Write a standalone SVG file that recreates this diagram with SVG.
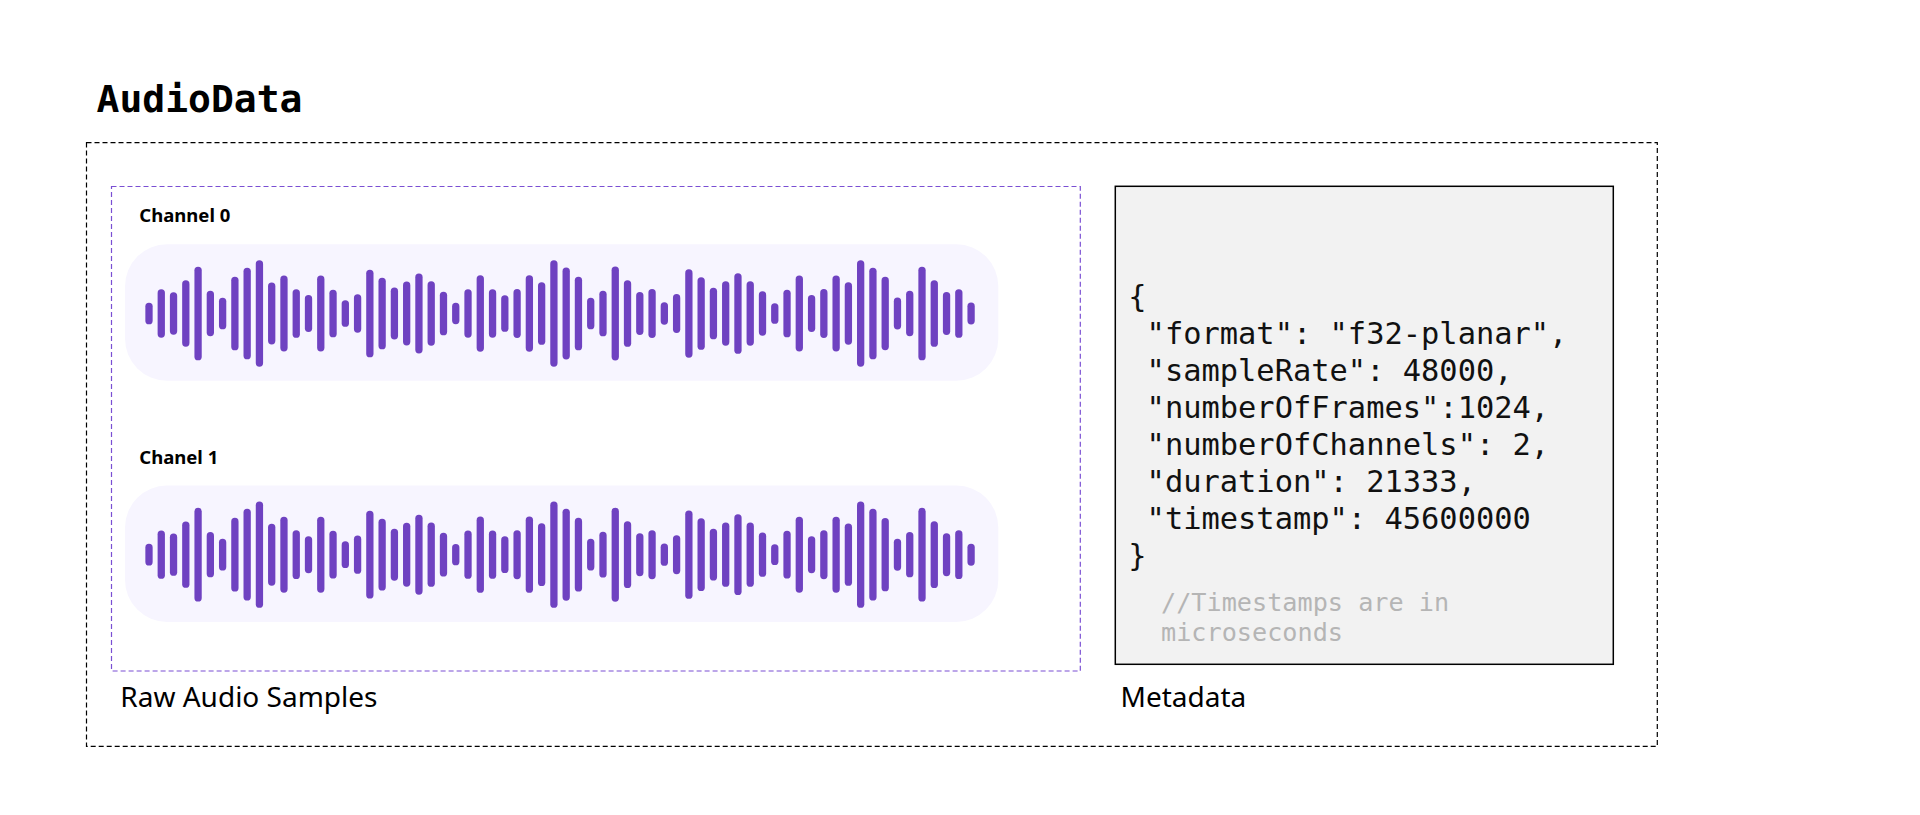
<svg xmlns="http://www.w3.org/2000/svg" xmlns:xlink="http://www.w3.org/1999/xlink" width="1920" height="815" viewBox="0 0 1920 815">
<style>
.title{font-family:"DejaVu Sans Mono","Liberation Mono",monospace;font-weight:bold;font-size:38px;fill:#000}
.lbl{font-family:"Noto Sans","Open Sans",sans-serif;font-size:28px;fill:#000}
.ch{font-family:"Noto Sans","Open Sans",sans-serif;font-weight:bold;font-size:18.5px;fill:#000}
.code{font-family:"DejaVu Sans Mono","Liberation Mono",monospace;font-size:30.4px;fill:#111}
.cmt{font-family:"DejaVu Sans Mono","Liberation Mono",monospace;font-size:25.2px;fill:#b5b5b5}
.b{fill:#6f42c1}
.pill{fill:#f7f5ff}
</style>
<defs>
<g id="bars" class="b">
<rect x="145.35" y="302.65" width="7.3" height="21.7" rx="3.65"/>
<rect x="157.62" y="289.35" width="7.3" height="48.3" rx="3.65"/>
<rect x="169.89" y="292.35" width="7.3" height="42.3" rx="3.65"/>
<rect x="182.16" y="280.35" width="7.3" height="66.3" rx="3.65"/>
<rect x="194.43" y="266.65" width="7.3" height="93.7" rx="3.65"/>
<rect x="206.70" y="290.85" width="7.3" height="45.3" rx="3.65"/>
<rect x="218.97" y="297.65" width="7.3" height="31.7" rx="3.65"/>
<rect x="231.24" y="276.65" width="7.3" height="73.7" rx="3.65"/>
<rect x="243.51" y="267.65" width="7.3" height="91.7" rx="3.65"/>
<rect x="255.78" y="260.35" width="7.3" height="106.3" rx="3.65"/>
<rect x="268.05" y="282.5" width="7.3" height="62" rx="3.65"/>
<rect x="280.32" y="275.5" width="7.3" height="76" rx="3.65"/>
<rect x="292.59" y="289.15" width="7.3" height="48.7" rx="3.65"/>
<rect x="304.86" y="295" width="7.3" height="37" rx="3.65"/>
<rect x="317.13" y="275.5" width="7.3" height="76" rx="3.65"/>
<rect x="329.40" y="289.65" width="7.3" height="47.7" rx="3.65"/>
<rect x="341.67" y="300.15" width="7.3" height="26.7" rx="3.65"/>
<rect x="353.94" y="294.35" width="7.3" height="38.3" rx="3.65"/>
<rect x="366.21" y="269.65" width="7.3" height="87.7" rx="3.65"/>
<rect x="378.48" y="277.65" width="7.3" height="71.7" rx="3.65"/>
<rect x="390.75" y="287.5" width="7.3" height="52" rx="3.65"/>
<rect x="403.02" y="281.5" width="7.3" height="64" rx="3.65"/>
<rect x="415.29" y="273.5" width="7.3" height="80" rx="3.65"/>
<rect x="427.56" y="281.35" width="7.3" height="64.3" rx="3.65"/>
<rect x="439.83" y="291.65" width="7.3" height="43.7" rx="3.65"/>
<rect x="452.10" y="302.85" width="7.3" height="21.3" rx="3.65"/>
<rect x="464.37" y="289.35" width="7.3" height="48.3" rx="3.65"/>
<rect x="476.64" y="275.35" width="7.3" height="76.3" rx="3.65"/>
<rect x="488.91" y="289.35" width="7.3" height="48.3" rx="3.65"/>
<rect x="501.18" y="295.15" width="7.3" height="36.7" rx="3.65"/>
<rect x="513.45" y="289" width="7.3" height="49" rx="3.65"/>
<rect x="525.72" y="275.35" width="7.3" height="76.3" rx="3.65"/>
<rect x="537.99" y="282.15" width="7.3" height="62.7" rx="3.65"/>
<rect x="550.26" y="260.35" width="7.3" height="106.3" rx="3.65"/>
<rect x="562.53" y="267.5" width="7.3" height="92" rx="3.65"/>
<rect x="574.80" y="276.65" width="7.3" height="73.7" rx="3.65"/>
<rect x="587.07" y="297.65" width="7.3" height="31.7" rx="3.65"/>
<rect x="599.34" y="290.65" width="7.3" height="45.7" rx="3.65"/>
<rect x="611.61" y="266.5" width="7.3" height="94" rx="3.65"/>
<rect x="623.88" y="280.15" width="7.3" height="66.7" rx="3.65"/>
<rect x="636.15" y="292" width="7.3" height="43" rx="3.65"/>
<rect x="648.42" y="289" width="7.3" height="49" rx="3.65"/>
<rect x="660.69" y="302.35" width="7.3" height="22.3" rx="3.65"/>
<rect x="672.96" y="294" width="7.3" height="39" rx="3.65"/>
<rect x="685.23" y="269.35" width="7.3" height="88.3" rx="3.65"/>
<rect x="697.50" y="277.15" width="7.3" height="72.7" rx="3.65"/>
<rect x="709.77" y="287.65" width="7.3" height="51.7" rx="3.65"/>
<rect x="722.04" y="281.35" width="7.3" height="64.3" rx="3.65"/>
<rect x="734.31" y="273.15" width="7.3" height="80.7" rx="3.65"/>
<rect x="746.58" y="281.35" width="7.3" height="64.3" rx="3.65"/>
<rect x="758.85" y="291.35" width="7.3" height="44.3" rx="3.65"/>
<rect x="771.12" y="303.15" width="7.3" height="20.7" rx="3.65"/>
<rect x="783.39" y="289.65" width="7.3" height="47.7" rx="3.65"/>
<rect x="795.66" y="275.5" width="7.3" height="76" rx="3.65"/>
<rect x="807.93" y="295" width="7.3" height="37" rx="3.65"/>
<rect x="820.20" y="289" width="7.3" height="49" rx="3.65"/>
<rect x="832.47" y="275.5" width="7.3" height="76" rx="3.65"/>
<rect x="844.74" y="282.35" width="7.3" height="62.3" rx="3.65"/>
<rect x="857.01" y="260.35" width="7.3" height="106.3" rx="3.65"/>
<rect x="869.28" y="267.65" width="7.3" height="91.7" rx="3.65"/>
<rect x="881.55" y="276.85" width="7.3" height="73.3" rx="3.65"/>
<rect x="893.82" y="297.5" width="7.3" height="32" rx="3.65"/>
<rect x="906.09" y="290.85" width="7.3" height="45.3" rx="3.65"/>
<rect x="918.36" y="266.65" width="7.3" height="93.7" rx="3.65"/>
<rect x="930.63" y="280.15" width="7.3" height="66.7" rx="3.65"/>
<rect x="942.90" y="292" width="7.3" height="43" rx="3.65"/>
<rect x="955.17" y="289.15" width="7.3" height="48.7" rx="3.65"/>
<rect x="967.44" y="302.5" width="7.3" height="22" rx="3.65"/>
</g>
</defs>
<rect width="1920" height="815" fill="#ffffff"/>
<g id="title">
<text class="title" x="96.5" y="112.3">AudioData</text>
</g>
<g id="audiodata">
<rect x="86.5" y="142.7" width="1570.8" height="603.6" fill="none" stroke="#000" stroke-width="1.2" stroke-dasharray="5 3"/>
</g>
<g id="raw-audio-samples">
<rect x="111.5" y="186.5" width="968.8" height="484.5" fill="none" stroke="#7a4fd3" stroke-width="1.2" stroke-dasharray="5 3"/>
<text class="lbl" x="120.3" y="707.3">Raw Audio Samples</text>
</g>
<g id="channel-0">
<text class="ch" x="139.3" y="222">Channel 0</text>
<rect class="pill" x="125" y="244.3" width="873.3" height="136.4" rx="42"/>
<use xlink:href="#bars" href="#bars"/>
</g>
<g id="channel-1">
<text class="ch" x="139.3" y="464">Chanel 1</text>
<rect class="pill" x="125" y="485.5" width="873.3" height="136.4" rx="42"/>
<use xlink:href="#bars" href="#bars" transform="translate(0 241.2)"/>
</g>
<g id="metadata">
<rect x="1115.3" y="186.3" width="498" height="478" fill="#f2f2f2" stroke="#000" stroke-width="1.5"/>
<text class="code" x="1128.3" y="307.2">{</text>
<text class="code" x="1146.6" y="344.1">"format": "f32-planar",</text>
<text class="code" x="1146.6" y="381">"sampleRate": 48000,</text>
<text class="code" x="1146.6" y="417.9">"numberOfFrames":1024,</text>
<text class="code" x="1146.6" y="454.8">"numberOfChannels": 2,</text>
<text class="code" x="1146.6" y="491.7">"duration": 21333,</text>
<text class="code" x="1146.6" y="528.6">"timestamp": 45600000</text>
<text class="code" x="1128.3" y="565.5">}</text>
<text class="cmt" x="1161" y="610.7">//Timestamps are in</text>
<text class="cmt" x="1161" y="641">microseconds</text>
<text class="lbl" x="1120.5" y="707">Metadata</text>
</g>
<g id="connectors"/>
</svg>
